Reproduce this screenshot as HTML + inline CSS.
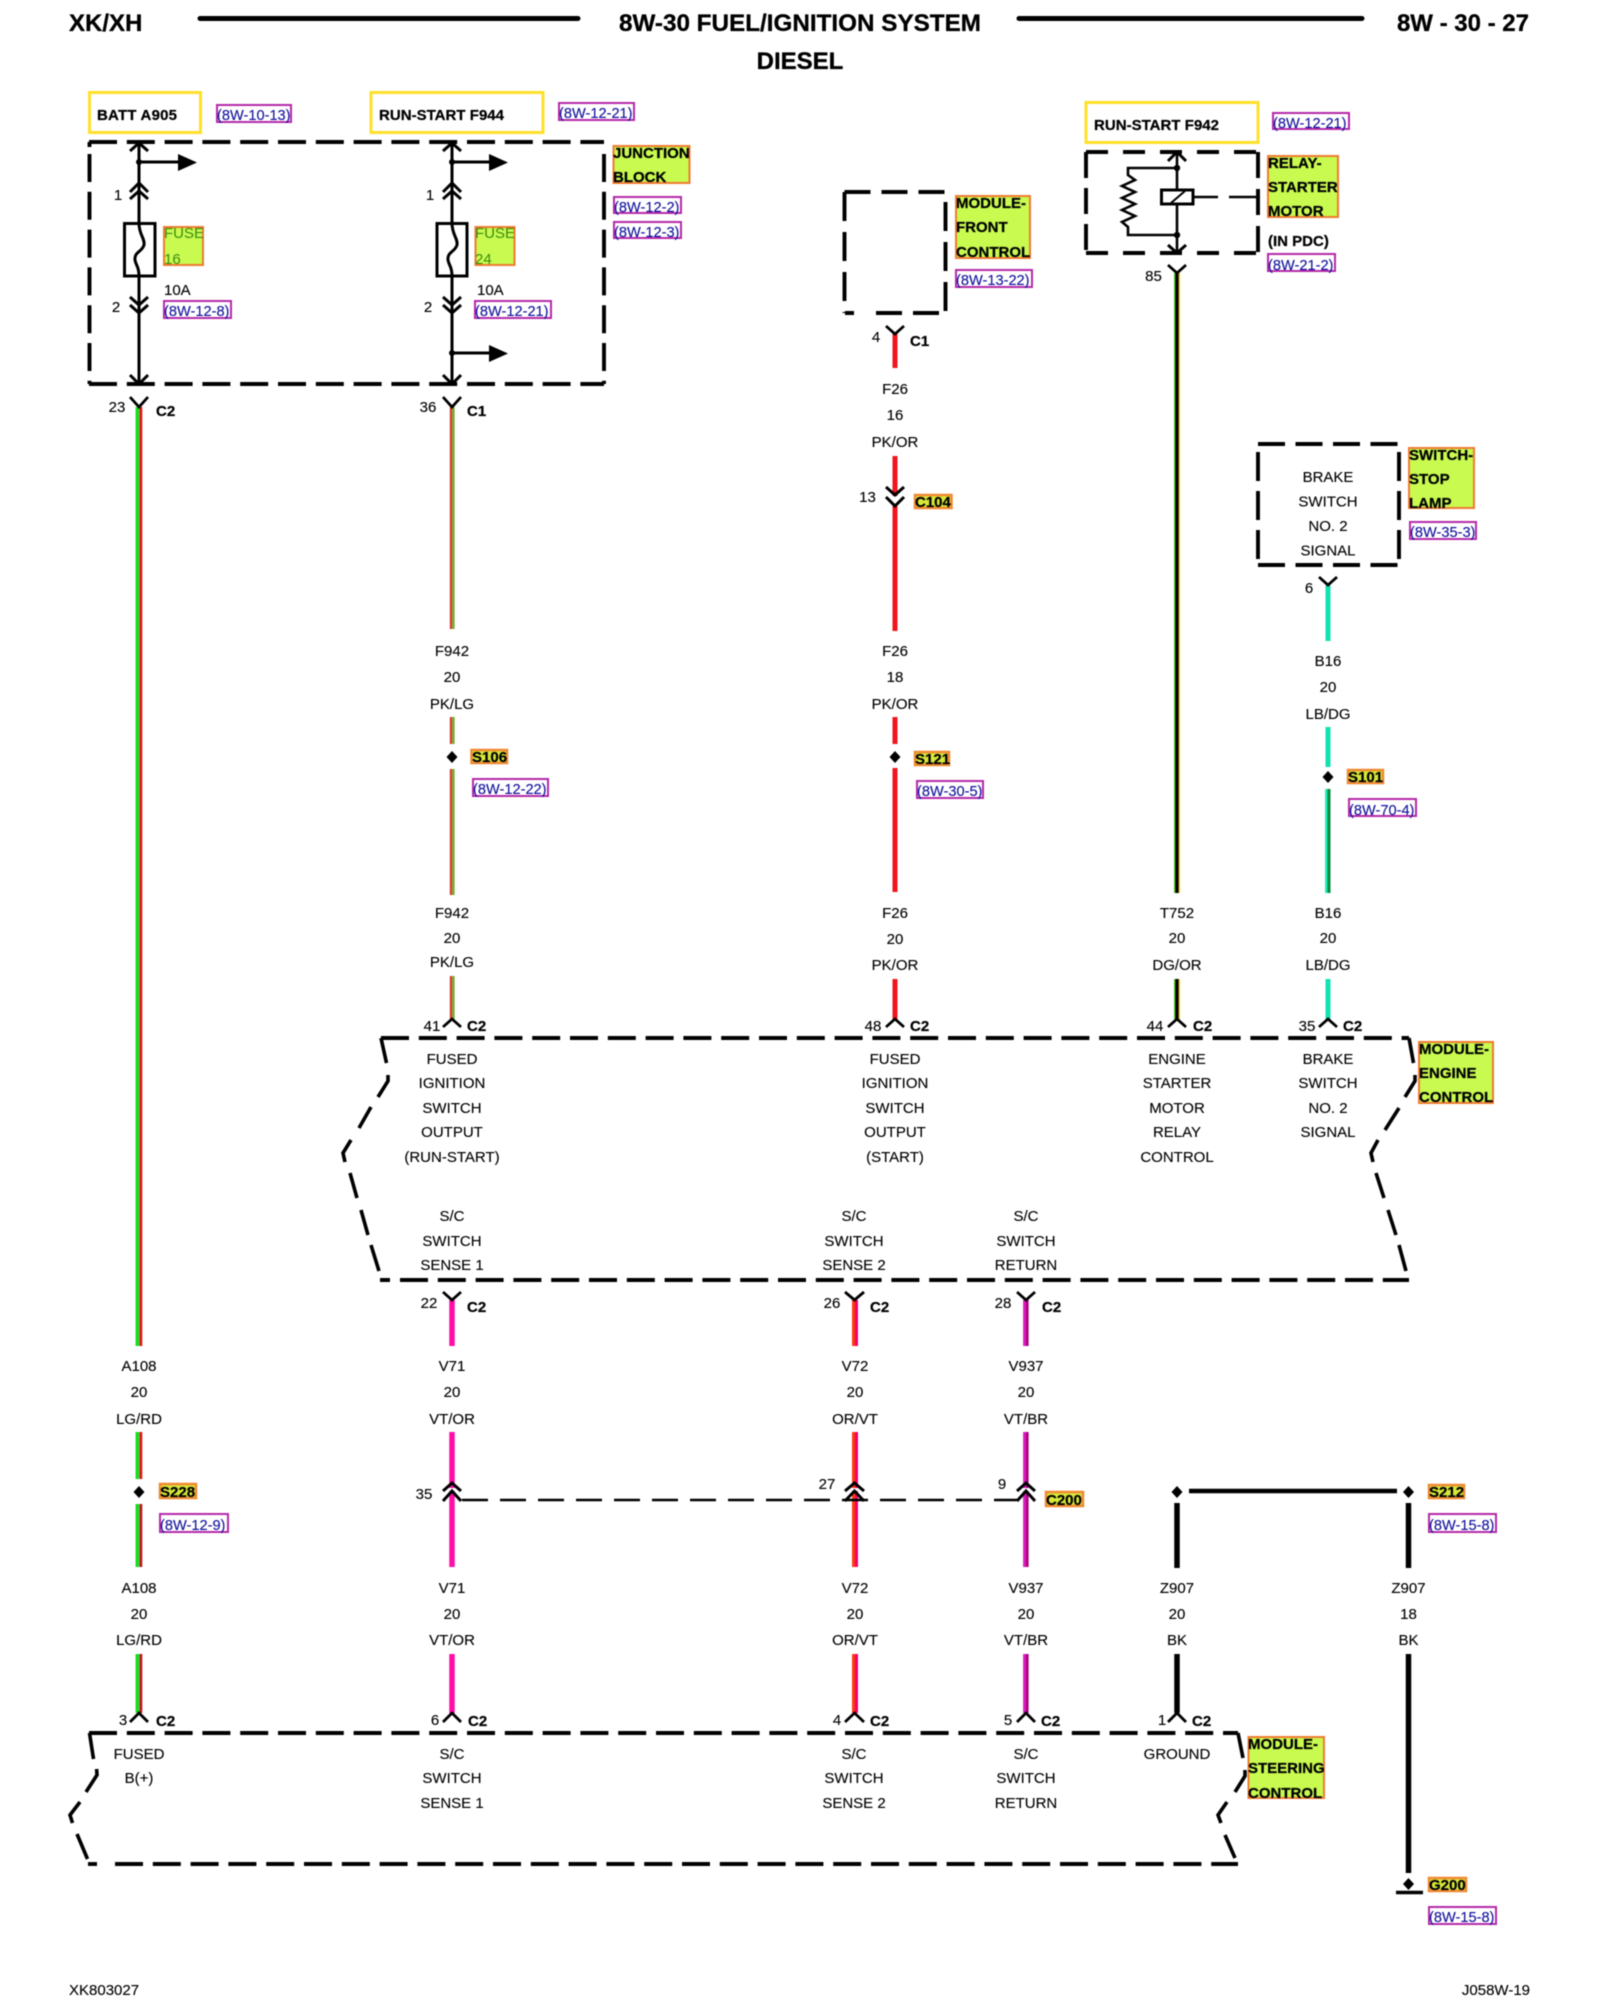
<!DOCTYPE html>
<html><head><meta charset="utf-8"><title>8W-30 Fuel/Ignition System Diesel</title>
<style>
html,body{margin:0;padding:0;background:#fff;width:1600px;height:2000px;overflow:hidden}
svg{display:block;filter:blur(.4px)}
text{font-family:"Liberation Sans",sans-serif;font-size:15px;fill:#000;stroke:#000;stroke-width:.12px}
.m text,text.m{text-anchor:middle}
.b text,text.b{font-weight:bold;fill:#000;stroke-width:.25px}
.h text{font-size:24px;font-weight:bold;fill:#000;stroke-width:.3px}
.k{fill:none;stroke:#000;stroke-width:3}
.d{fill:none;stroke:#000;stroke-width:3.9;stroke-dasharray:28 9.8}
.y{fill:#fff;stroke:#ffe02a;stroke-width:3}
.l{fill:#c8fa50;stroke:#f07a30;stroke-width:2}
.t{fill:#d8e838;stroke:#f08a30;stroke-width:2.5}
.r{fill:#fff;stroke:#b428a8;stroke-width:2}
.rt text{fill:#10109c;stroke:#10109c;font-size:14.6px}
.f text{fill:#3c8c10;stroke:none}
</style></head><body>
<svg width="1600" height="2000" viewBox="0 0 1600 2000" xmlns="http://www.w3.org/2000/svg">
<rect width="1600" height="2000" fill="#fff"/>

<!-- header -->
<path d="M200 18.5H578M1019 18.5H1362" stroke="#000" stroke-width="5" stroke-linecap="round"/>
<g class="h">
<text x="69" y="31">XK/XH</text>
<text x="800" y="31" text-anchor="middle" textLength="362" lengthAdjust="spacingAndGlyphs">8W-30 FUEL/IGNITION SYSTEM</text>
<text x="800" y="69" text-anchor="middle">DIESEL</text>
<text x="1529" y="31" text-anchor="end">8W - 30 - 27</text>
</g>

<!-- yellow source boxes -->
<rect class="y" x="89.5" y="92.5" width="111" height="40"/>
<rect class="y" x="371" y="92.5" width="172" height="40"/>
<rect class="y" x="1086" y="102.5" width="172" height="40"/>
<g class="b">
<text x="97" y="120" textLength="80">BATT A905</text>
<text x="379" y="120" textLength="125">RUN-START F944</text>
<text x="1094" y="130" textLength="125">RUN-START F942</text>
</g>

<!-- green labels -->
<rect class="l" x="613.5" y="146" width="76" height="37"/>
<rect class="l" x="956" y="196" width="74" height="62"/>
<rect class="l" x="1268" y="156" width="70" height="61"/>
<rect class="l" x="1409" y="448" width="65" height="60"/>
<rect class="l" x="1419" y="1042" width="74" height="61"/>
<rect class="l" x="1248.5" y="1737" width="75.5" height="61"/>
<rect class="l" x="164" y="227" width="39" height="38"/>
<rect class="l" x="475.5" y="227" width="39" height="38"/>
<g class="b">
<text x="613" y="158">JUNCTION</text><text x="613" y="182">BLOCK</text>
<text x="956" y="208">MODULE-</text><text x="956" y="232">FRONT</text><text x="956" y="257">CONTROL</text>
<text x="1268" y="168">RELAY-</text><text x="1268" y="192">STARTER</text><text x="1268" y="216">MOTOR</text>
<text x="1268" y="246">(IN PDC)</text>
<text x="1409" y="460">SWITCH-</text><text x="1409" y="484">STOP</text><text x="1409" y="508">LAMP</text>
<text x="1419" y="1054">MODULE-</text><text x="1419" y="1078">ENGINE</text><text x="1419" y="1102">CONTROL</text>
<text x="1248" y="1749">MODULE-</text><text x="1248" y="1773">STEERING</text><text x="1248" y="1798">CONTROL</text>
</g>
<g class="f">
<text x="164" y="238">FUSE</text><text x="164" y="264">16</text>
<text x="475" y="238">FUSE</text><text x="475" y="264">24</text>
</g>

<!-- reference tags -->
<rect class="r" x="217" y="105" width="74" height="17"/>
<rect class="r" x="559" y="103" width="75" height="17"/>
<rect class="r" x="614" y="197" width="67" height="16"/>
<rect class="r" x="614" y="222" width="67" height="16"/>
<rect class="r" x="164" y="301" width="67" height="17"/>
<rect class="r" x="475" y="301" width="76" height="17"/>
<rect class="r" x="956" y="270" width="76" height="17"/>
<rect class="r" x="1273" y="113" width="76" height="16"/>
<rect class="r" x="1268" y="254" width="67" height="17"/>
<rect class="r" x="1410" y="522" width="66" height="17"/>
<rect class="r" x="473" y="779" width="75" height="17"/>
<rect class="r" x="917" y="781" width="66" height="17"/>
<rect class="r" x="1349" y="799" width="67" height="17"/>
<rect class="r" x="160" y="1514" width="68" height="18"/>
<rect class="r" x="1429" y="1514" width="67" height="18"/>
<rect class="r" x="1429" y="1907" width="67" height="17"/>
<g class="rt">
<text x="217" y="120">(8W-10-13)</text>
<text x="559" y="118">(8W-12-21)</text>
<text x="614" y="212">(8W-12-2)</text>
<text x="614" y="237">(8W-12-3)</text>
<text x="164" y="316">(8W-12-8)</text>
<text x="475" y="316">(8W-12-21)</text>
<text x="956" y="285">(8W-13-22)</text>
<text x="1273" y="128">(8W-12-21)</text>
<text x="1268" y="270">(8W-21-2)</text>
<text x="1410" y="537">(8W-35-3)</text>
<text x="473" y="794">(8W-12-22)</text>
<text x="917" y="796">(8W-30-5)</text>
<text x="1349" y="815">(8W-70-4)</text>
<text x="160" y="1530">(8W-12-9)</text>
<text x="1429" y="1530">(8W-15-8)</text>
<text x="1429" y="1922">(8W-15-8)</text>
</g>

<!-- dashed component boxes -->
<path class="d" d="M89 142H604"/>
<path class="d" d="M89 384H604"/>
<path class="d" d="M89.5 142V147M89.5 154V384"/>
<path class="d" d="M604 154V384"/>

<path class="d" style="stroke-dasharray:22 15" d="M1086 152H1258M1086 253H1258"/>
<path class="d" style="stroke-dasharray:26 10" d="M1086 152V253"/>
<path class="d" style="stroke-dasharray:26 11" d="M1258 152V253"/>

<path class="d" style="stroke-dasharray:26 11" d="M844.5 192H945.5"/>
<path class="d" style="stroke-dasharray:29 11" d="M844.5 192V313"/>
<path class="d" style="stroke-dasharray:29 11" d="M945.5 202V313"/>
<path class="d" style="stroke-dasharray:26 11" d="M876 313H945M845 313H854"/>

<path class="d" style="stroke-dasharray:27 10.5" d="M1258 444H1399M1258 565H1399"/>
<path class="d" style="stroke-dasharray:29 10" d="M1258 452V566"/>
<path class="d" style="stroke-dasharray:29 10" d="M1399 452V566"/>

<!-- engine control module -->
<path class="d" d="M381 1038H1409"/>
<path class="d" d="M380 1280H390M400 1280H1409"/>
<path class="k" style="stroke-width:3.6" d="M381 1038L386.5 1063M388 1075V1081L378 1097M371 1107L359 1128M351 1140L343 1153L345 1162M350 1173L357 1198M361 1210L368 1235M371 1245L379 1271"/>
<path class="k" style="stroke-width:3.6" d="M1409 1038L1413.5 1063M1415 1075V1081L1405 1097M1399 1108L1385 1130M1378 1140L1371 1153L1373 1162M1376 1173L1384 1198M1388 1210L1396 1235M1399 1245L1406 1271"/>

<!-- steering control module -->
<path class="d" d="M89 1733H1238"/>
<path class="d" d="M115 1864H1238"/>
<path class="k" style="stroke-width:3.9" d="M88 1864H97"/>
<path class="k" style="stroke-width:3.6" d="M89.5 1733L93.5 1759M96.6 1769L97 1775L86 1792M80 1802L70 1815L72.500 1823M77 1834L87.5 1859"/>
<path class="k" style="stroke-width:3.6" d="M1238 1733L1243 1758M1245 1770V1776L1235 1792M1227 1802L1218 1815L1221 1823M1225 1835L1235 1858"/>

<!-- wires -->
<g fill="none" stroke-width="3.5" stroke="#10e020"><path d="M137.3 407V1346M137.3 1432V1479M137.3 1504V1567M137.3 1654V1713"/></g>
<g fill="none" stroke-width="3" stroke="#d81c14"><path d="M140.8 407V1346M140.8 1432V1479"/></g>
<g fill="none" stroke-width="3" stroke="#b81c1c"><path d="M140.8 1504V1567M140.8 1654V1713"/></g>

<g fill="none" stroke-width="2.4" stroke="#dc3c30"><path d="M451 407V629M451 717V744M451 769V895M451 976V1019"/></g>
<g fill="none" stroke-width="2.4" stroke="#6cb02c"><path d="M453.4 407V629M453.4 717V744M453.4 769V895M453.4 976V1019"/></g>

<g fill="none" stroke-width="5" stroke="#f2161c"><path d="M895 333V368M895 456V496M895 506V631M895 717V744M895 768V892M895 979V1019"/></g>

<g fill="none" stroke-width="1.6" stroke="#4cb828"><path d="M1174.8 273V893M1174.8 979V1019"/></g>
<g fill="none" stroke-width="1.6" stroke="#e8c818"><path d="M1179.2 273V893M1179.2 979V1019"/></g>
<g fill="none" stroke-width="3.2" stroke="#000"><path d="M1177 273V893M1177 979V1019"/></g>

<g fill="none" stroke-width="5" stroke="#12e2b2"><path d="M1328 584V641M1328 727V767M1328 979V1019"/></g>
<g fill="none" stroke-width="2.5" stroke="#22e8b0"><path d="M1326.3 789V893"/></g>
<g fill="none" stroke-width="3" stroke="#008c44"><path d="M1329 789V893"/></g>

<g fill="none" stroke-width="5.5" stroke="#ff0ea8"><path d="M452 1300V1346M452 1432V1488M452 1491V1567M452 1654V1713"/></g>
<g fill="none" stroke-width="3" stroke="#ff3a10"><path d="M853.5 1300V1346M853.5 1432V1488M853.5 1491V1567M853.5 1654V1713"/></g>
<g fill="none" stroke-width="3" stroke="#f4006c"><path d="M856.5 1300V1346M856.5 1432V1488M856.5 1491V1567M856.5 1654V1713"/></g>
<g fill="none" stroke-width="3" stroke="#d81cc0"><path d="M1024.6 1300V1346M1024.6 1432V1488M1024.6 1491V1567M1024.6 1654V1713"/></g>
<g fill="none" stroke-width="2.6" stroke="#b0007c"><path d="M1027.3 1300V1346M1027.3 1432V1488M1027.3 1491V1567M1027.3 1654V1713"/></g>

<g fill="none" stroke="#000" stroke-width="5.5">
<path d="M1177 1503V1568M1177 1654V1713M1408.5 1503V1568M1408.5 1654V1873"/>
</g>
<path d="M1189 1491H1397" stroke="#000" stroke-width="4.5"/>
<path d="M1396 1892.5H1423" stroke="#000" stroke-width="3.5"/>
<path d="M462 1500H1017" stroke="#000" stroke-width="2.6" stroke-dasharray="26 12"/>

<!-- splice diamonds -->
<g fill="#000">
<path d="M139 1486L144.5 1492L139 1498L133.500 1492Z"/>
<path d="M452 751L457.500 757L452 763L446.500 757Z"/>
<path d="M895 751L900.500 757L895 763L889.500 757Z"/>
<path d="M1328 771L1333.500 777L1328 783L1322.500 777Z"/>
<path d="M1177 1486L1182.500 1492L1177 1498L1171.500 1492Z"/>
<path d="M1408.500 1486L1414 1492L1408.500 1498L1403 1492Z"/>
<path d="M1408.500 1878L1414 1884L1408.500 1890L1403 1884Z"/>
<circle cx="139" cy="162" r="3"/><circle cx="452" cy="162" r="3"/><circle cx="452" cy="353" r="3"/>
<circle cx="1177" cy="168" r="3.200"/><circle cx="1177" cy="235" r="3.200"/>
<!-- arrow heads -->
<path d="M178 154L197 162.500L178 171Z"/><path d="M489 154L508 162.500L489 171Z"/><path d="M489 345L508 353.500L489 362Z"/>
</g>

<!-- junction block internals -->
<path class="k" d="M139 142V223M139 276V384M452 142V223M452 276V384"/>
<path class="k" d="M139 162H180M452 162H491M452 353H491"/>
<path class="k" d="M130 151L139 143L148 151M130 192L139 183L148 192M130 199L139 191L148 199"/>
<path class="k" d="M443 151L452 143L461 151M443 192L452 183L461 192M443 199L452 191L461 199"/>
<path class="k" d="M130 297L139 305L148 297M130 305L139 313L148 305M130 375L139 384L148 375"/>
<path class="k" d="M443 297L452 305L461 297M443 305L452 313L461 305M443 375L452 384L461 375"/>
<rect class="k" x="124.500" y="223.500" width="30.500" height="52.500"/>
<rect class="k" x="437" y="223.500" width="30" height="52.500"/>
<path class="k" d="M139 223C139 235 145 238 144 245C142 252 134 252 135 260C136 266 139 266 139 276"/>
<path class="k" d="M452 223C452 235 458 238 457 245C455 252 447 252 448 260C449 266 452 266 452 276"/>

<!-- relay internals -->
<path class="k" style="stroke-width:2.600" d="M1177 152V190M1177 204V253M1177 168H1128V175L1135 180L1122 186L1135 192L1122 198L1135 204L1122 210L1135 216L1122 222L1128 227V235H1177"/>
<path class="k" d="M1168 161L1177 152L1186 161M1168 245L1177 253L1186 245"/>
<rect class="k" x="1161.500" y="190" width="31.500" height="14" style="fill:#fff"/>
<path class="k" style="stroke-width:2" d="M1171 203L1185 191"/>
<path class="k" style="stroke-width:2.400" d="M1193 197H1218M1229 197H1258"/>

<!-- connector marks -->
<path class="k" style="stroke-width:2.800" d="M130 397L139 407L148 397M443 397L452 407L461 397M886 326L895 334L904 326M1168 265L1177 273L1186 265M1319 577L1328 585L1337 577"/>
<path class="k" style="stroke-width:3" d="M886 487L895 495L904 487M886 497L895 506L904 497"/>
<path class="k" style="stroke-width:2.800" d="M443 1027L452 1019L461 1027M886 1027L895 1019L904 1027M1168 1027L1177 1019L1186 1027M1319 1027L1328 1019L1337 1027"/>
<path class="k" style="stroke-width:2.800" d="M443 1292L452 1300L461 1292M845 1292L854.500 1300L864 1292M1017 1292L1026 1300L1035 1292"/>
<path class="k" d="M443 1491L452 1483L461 1491M443 1501L452 1491L461 1501M845 1491L854.500 1483L864 1491M845 1501L854.500 1491L864 1501M1017 1491L1026 1483L1035 1491M1017 1501L1026 1491L1035 1501"/>
<path class="k" style="stroke-width:2.800" d="M130 1722L139 1713L148 1722M443 1722L452 1713L461 1722M845 1722L854.500 1713L864 1722M1017 1722L1026 1713L1035 1722M1168 1722L1177 1713L1186 1722"/>

<!-- small orange tags -->
<rect class="t" x="471.500" y="750" width="35.500" height="13"/>
<rect class="t" x="915" y="752" width="34" height="13"/>
<rect class="t" x="915" y="495" width="36.500" height="13"/>
<rect class="t" x="1348" y="770" width="35" height="13"/>
<rect class="t" x="160" y="1484" width="36" height="14"/>
<rect class="t" x="1046" y="1492" width="37" height="14"/>
<rect class="t" x="1429" y="1485" width="35" height="13"/>
<rect class="t" x="1429" y="1878" width="37" height="13"/>
<g class="b">
<text x="472" y="762">S106</text>
<text x="915" y="764">S121</text>
<text x="915" y="507">C104</text>
<text x="1348" y="782">S101</text>
<text x="160" y="1497">S228</text>
<text x="1046" y="1505">C200</text>
<text x="1429" y="1497">S212</text>
<text x="1429" y="1890">G200</text>
<text x="156" y="416">C2</text><text x="467" y="416">C1</text><text x="910" y="346">C1</text>
<text x="467" y="1031">C2</text><text x="910" y="1031">C2</text><text x="1193" y="1031">C2</text><text x="1343" y="1031">C2</text>
<text x="467" y="1312">C2</text><text x="870" y="1312">C2</text><text x="1042" y="1312">C2</text>
<text x="156" y="1726">C2</text><text x="468" y="1726">C2</text><text x="870" y="1726">C2</text><text x="1041" y="1726">C2</text><text x="1192" y="1726">C2</text>
</g>

<!-- pin numbers and labels -->
<g class="m">
<text x="118" y="200">1</text><text x="116" y="312">2</text><text x="430" y="200">1</text><text x="428" y="312">2</text>
<text x="117" y="412">23</text><text x="428" y="412">36</text><text x="876" y="342">4</text><text x="1153.500" y="281">85</text>
<text x="867.500" y="502">13</text><text x="1309" y="593">6</text>
<text x="432" y="1031">41</text><text x="873" y="1031">48</text><text x="1155" y="1031">44</text><text x="1307" y="1031">35</text>
<text x="429" y="1308">22</text><text x="832" y="1308">26</text><text x="1003" y="1308">28</text>
<text x="424" y="1499">35</text><text x="827" y="1489">27</text><text x="1002" y="1489">9</text>
<text x="123" y="1725">3</text><text x="435" y="1725">6</text><text x="837" y="1725">4</text><text x="1008" y="1725">5</text><text x="1162" y="1725">1</text>

<text x="895" y="394">F26</text><text x="895" y="420">16</text><text x="895" y="447">PK/OR</text>
<text x="452" y="656">F942</text><text x="452" y="682">20</text><text x="452" y="709">PK/LG</text>
<text x="895" y="656">F26</text><text x="895" y="682">18</text><text x="895" y="709">PK/OR</text>
<text x="1328" y="666">B16</text><text x="1328" y="692">20</text><text x="1328" y="719">LB/DG</text>
<text x="452" y="918">F942</text><text x="452" y="943">20</text><text x="452" y="967">PK/LG</text>
<text x="895" y="918">F26</text><text x="895" y="944">20</text><text x="895" y="970">PK/OR</text>
<text x="1177" y="918">T752</text><text x="1177" y="943">20</text><text x="1177" y="970">DG/OR</text>
<text x="1328" y="918">B16</text><text x="1328" y="943">20</text><text x="1328" y="970">LB/DG</text>

<text x="1328" y="482">BRAKE</text><text x="1328" y="506.500">SWITCH</text><text x="1328" y="531">NO. 2</text><text x="1328" y="555.500">SIGNAL</text>

<text x="452" y="1064">FUSED</text><text x="452" y="1088">IGNITION</text><text x="452" y="1113">SWITCH</text><text x="452" y="1137">OUTPUT</text><text x="452" y="1162">(RUN-START)</text>
<text x="895" y="1064">FUSED</text><text x="895" y="1088">IGNITION</text><text x="895" y="1113">SWITCH</text><text x="895" y="1137">OUTPUT</text><text x="895" y="1162">(START)</text>
<text x="1177" y="1064">ENGINE</text><text x="1177" y="1088">STARTER</text><text x="1177" y="1113">MOTOR</text><text x="1177" y="1137">RELAY</text><text x="1177" y="1162">CONTROL</text>
<text x="1328" y="1064">BRAKE</text><text x="1328" y="1088">SWITCH</text><text x="1328" y="1113">NO. 2</text><text x="1328" y="1137">SIGNAL</text>

<text x="452" y="1221">S/C</text><text x="452" y="1246">SWITCH</text><text x="452" y="1270">SENSE 1</text>
<text x="854" y="1221">S/C</text><text x="854" y="1246">SWITCH</text><text x="854" y="1270">SENSE 2</text>
<text x="1026" y="1221">S/C</text><text x="1026" y="1246">SWITCH</text><text x="1026" y="1270">RETURN</text>

<text x="139" y="1371">A108</text><text x="139" y="1397">20</text><text x="139" y="1424">LG/RD</text>
<text x="452" y="1371">V71</text><text x="452" y="1397">20</text><text x="452" y="1424">VT/OR</text>
<text x="855" y="1371">V72</text><text x="855" y="1397">20</text><text x="855" y="1424">OR/VT</text>
<text x="1026" y="1371">V937</text><text x="1026" y="1397">20</text><text x="1026" y="1424">VT/BR</text>

<text x="139" y="1593">A108</text><text x="139" y="1619">20</text><text x="139" y="1645">LG/RD</text>
<text x="452" y="1593">V71</text><text x="452" y="1619">20</text><text x="452" y="1645">VT/OR</text>
<text x="855" y="1593">V72</text><text x="855" y="1619">20</text><text x="855" y="1645">OR/VT</text>
<text x="1026" y="1593">V937</text><text x="1026" y="1619">20</text><text x="1026" y="1645">VT/BR</text>
<text x="1177" y="1593">Z907</text><text x="1177" y="1619">20</text><text x="1177" y="1645">BK</text>
<text x="1408.500" y="1593">Z907</text><text x="1408.500" y="1619">18</text><text x="1408.500" y="1645">BK</text>

<text x="139" y="1759">FUSED</text><text x="139" y="1783">B(+)</text>
<text x="452" y="1759">S/C</text><text x="452" y="1783">SWITCH</text><text x="452" y="1808">SENSE 1</text>
<text x="854" y="1759">S/C</text><text x="854" y="1783">SWITCH</text><text x="854" y="1808">SENSE 2</text>
<text x="1026" y="1759">S/C</text><text x="1026" y="1783">SWITCH</text><text x="1026" y="1808">RETURN</text>
<text x="1177" y="1759">GROUND</text>
</g>
<text x="164" y="295">10A</text>
<text x="477" y="295">10A</text>
<text x="69" y="1995">XK803027</text>
<text x="1530" y="1995" text-anchor="end">J058W-19</text>
</svg>
</body></html>
